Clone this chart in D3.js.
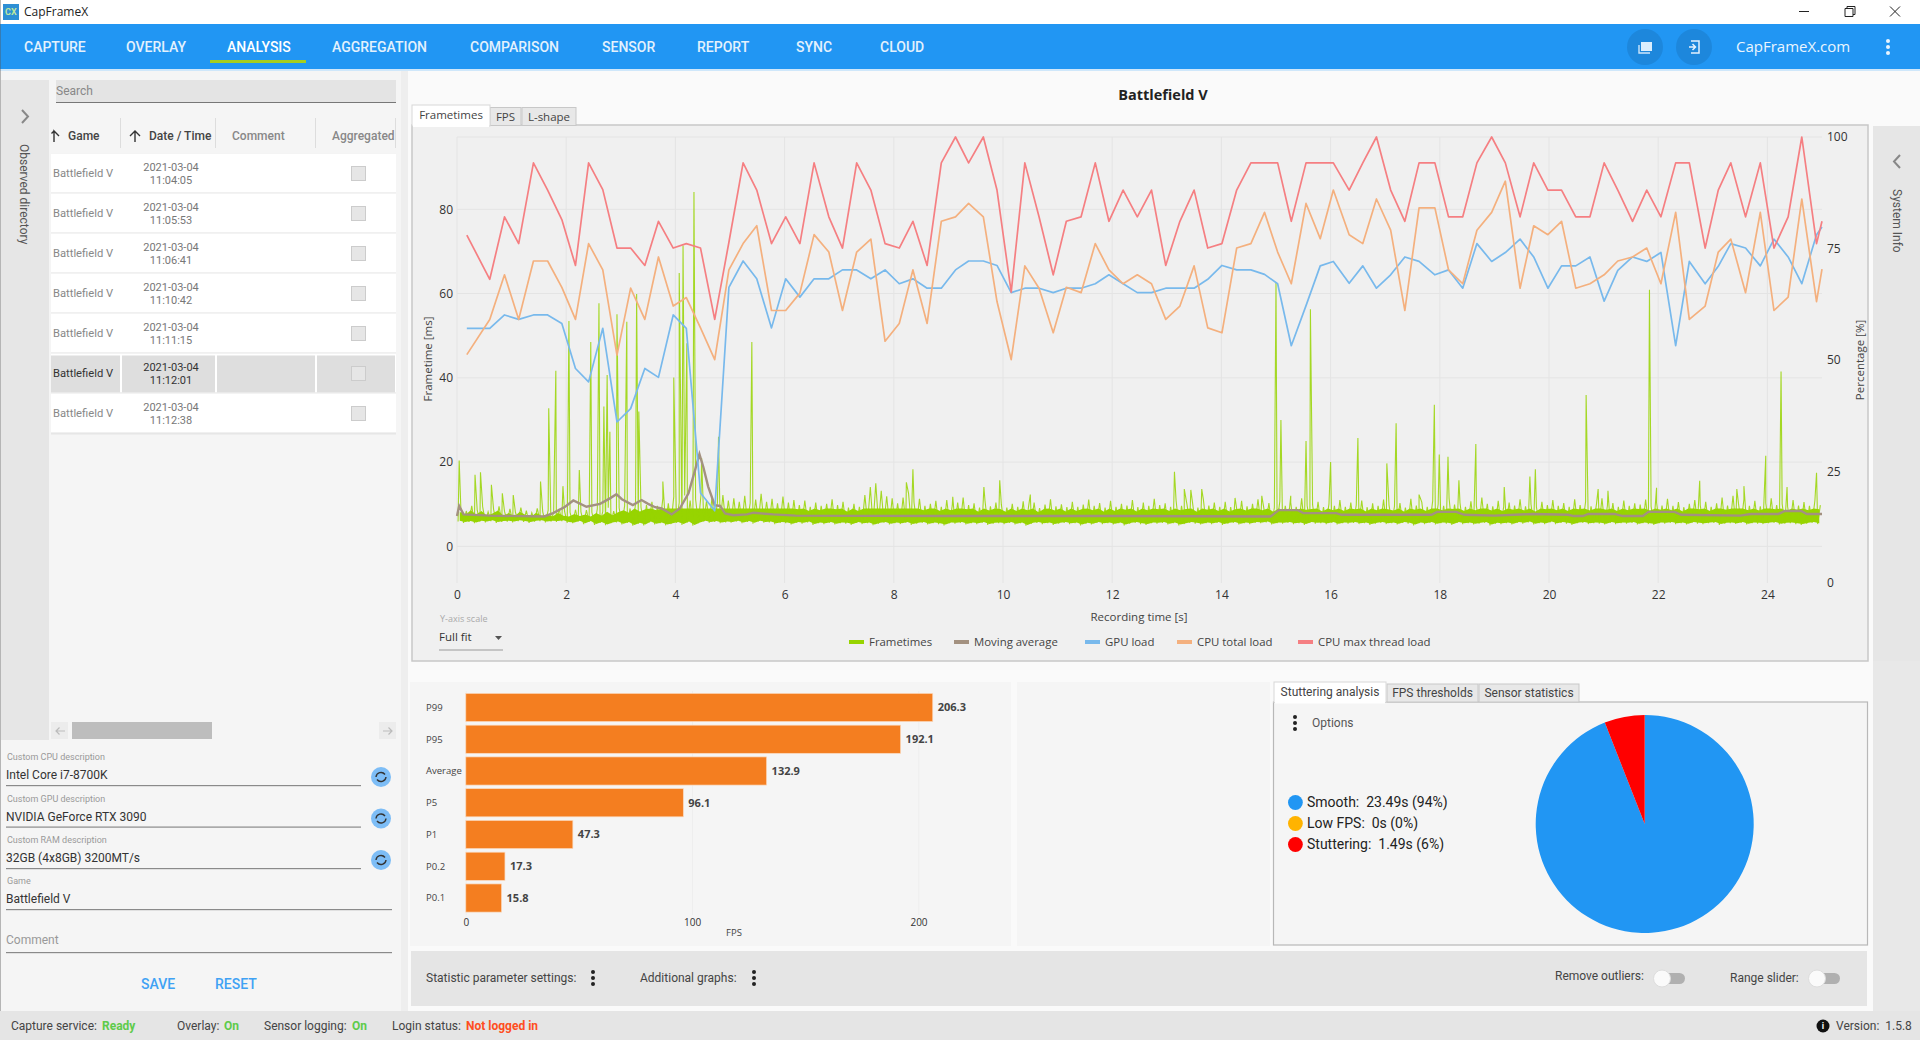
<!DOCTYPE html>
<html>
<head>
<meta charset="utf-8">
<script src="https://d3js.org/d3.v7.min.js"></script>
<style>
  html, body { margin: 0; padding: 0; background: #fafafa; overflow: hidden; }
  svg { display: block; }
  text { font-family: Roboto, sans-serif; white-space: pre; }
  .chart text { font-family: "Open Sans", sans-serif; }
</style>
</head>
<body>
<script>
// sensor samples, about every 0.26 s
var sensorTimes = [0.18,0.60,0.87,1.13,1.40,1.66,1.92,2.17,2.41,2.67,2.93,3.18,3.44,3.69,3.96,4.20,4.46,4.72,4.98,5.24,
  5.49,5.76,6.02,6.28,6.54,6.81,7.06,7.32,7.58,7.84,8.10,8.35,8.61,8.87,9.13,9.37,9.64,9.89,10.15,10.40,
  10.66,10.92,11.16,11.43,11.69,11.94,12.20,12.46,12.72,12.98,13.24,13.50,13.75,14.01,14.28,14.54,14.79,15.03,15.28,15.55,
  15.81,16.05,16.34,16.59,16.84,17.10,17.36,17.62,17.91,18.16,18.42,18.68,18.95,19.20,19.47,19.72,19.98,20.23,20.49,20.75,
  21.01,21.26,21.53,21.79,22.05,22.32,22.57,22.86,23.10,23.33,23.60,23.87,24.12,24.38,24.63,24.90,25.00];
var gpuLoad = [57.1,57.1,60.1,59.1,60.1,60.1,58.2,48.1,45.1,57.1,36.1,39.1,48.1,46.1,60.1,57.1,20.2,16.2,66.3,72.2,
  68.2,57.2,68.2,64.1,68.2,68.2,70.2,70.2,68.2,70.2,67.1,68.2,66.1,66.1,70.2,72.2,72.2,71.2,65.1,66.1,
  66.1,65.1,66.1,66.1,67.1,69.1,67.1,65.1,65.1,66.1,66.1,66.1,68.1,71.2,70.2,70.2,69.2,67.1,53.2,62.2,
  71.1,72.1,67.2,71.1,66.1,69.1,73.1,72.1,69.1,70.2,66.1,76.1,72.1,74.1,77.1,73.1,66.1,71.1,71.1,73.1,
  63.2,70.1,73.1,72.1,74.1,53.2,72.1,67.1,71,76.1,75.1,71.1,77.1,73.1,67.1,78.1,79.8];
var cpuTotal = [51.2,59.1,69.1,59.1,72.2,72.2,66.3,59.1,76.1,70.2,51.1,66.1,59.1,73.1,62.1,64.0,57.2,50.1,70.2,76.1,
  80.1,61.1,61.1,65,78.1,74.2,61.1,74.2,77.1,54.2,58.2,70.2,58.2,81.1,82.1,85.1,82.1,63.1,50.1,71.1,
  66.1,56.1,66.3,65.1,76.1,70.2,67.1,69.1,67.1,59.1,62.1,71.1,57.2,56.1,75.1,76.1,83.1,74.2,67.1,85.1,
  77.2,88.1,78.1,76.1,86.1,79.1,61.1,84.1,84.1,70.2,67.1,79.1,83.1,90.1,66.1,80.1,78.1,81.1,66.1,67.1,
  69.1,72.2,73.1,75.1,67.1,83.1,59.1,62.1,74.2,77.1,65.1,83.1,61.1,64.1,86.1,63.1,70.4];
var cpuMax = [78,68.1,82.1,76.1,94.2,88.1,81.5,71.2,94.2,88.2,75.1,75.1,71.2,81.1,75.1,76.1,75.1,59.1,76.4,94.2,
  88.1,76.1,82.1,76.1,94.2,82.1,75.1,94.2,88.1,76.1,75.1,81.1,71.2,94.2,100,94.2,100,88.1,65.2,94.2,
  82.1,69.1,81.1,82.1,94.2,81.1,88.1,82.1,88.1,71.2,81.1,88.1,75.1,76.1,88.1,94.2,94.2,94.2,81.1,94.2,
  94.2,94.2,88.1,94.2,100,88.1,81.1,94.2,94.2,82.1,82.1,94.2,100,94.2,82.1,94.2,88.1,88.1,82.1,82.1,
  94.2,88.1,81.1,88.1,82.1,94.2,94.2,75.1,88.1,94.2,82.1,94.2,75.1,82.1,100,76.1,81.1];

// frametime band read per 0.1 s slot (lowest and highest non-spike frame in the slot)
var frameLow = [5.9,5.6,5.8,5.5,5.9,5.7,6.0,5.6,5.8,5.9,5.7,6.0,5.8,5.6,5.9,6.0,5.7,5.9,5.8,6.0,
  5.6,5.5,5.9,5.3,5.8,5.1,5.6,5.0,5.5,5.7,5.2,5.6,4.9,5.4,5.0,5.7,5.2,5.5,5.0,5.3,
  5.6,5.1,5.7,4.9,5.5,5.9,5.6,5.8,5.5,5.7,5.6,5.9,5.5,5.8,5.4,5.9,5.6,5.7,5.3,5.6,
  5.5,5.2,5.6,5.4,5.7,5.1,5.5,5.3,5.6,5.2,5.5,5.4,5.1,5.6,5.3,5.5,5.0,5.4,5.6,5.2,
  5.5,5.3,5.6,5.1,5.4,5.6,5.2,5.5,5.3,5.0,5.5,5.4,5.6,5.2,5.5,5.3,5.6,5.1,5.4,5.5,
  5.3,5.6,5.2,5.5,4.9,5.4,5.6,5.3,5.5,5.1,5.4,5.6,5.3,5.5,5.0,5.4,5.2,5.6,5.3,5.5,
  5.2,5.5,5.0,5.4,5.6,5.3,5.1,5.5,5.4,5.6,5.2,5.5,5.0,5.3,5.6,5.4,5.2,5.5,5.3,5.6,
  5.1,5.4,5.6,5.2,5.5,5.3,5.6,5.5,5.7,5.2,5.5,5.4,5.6,5.3,5.5,5.1,5.6,5.4,5.5,5.3,
  5.6,5.2,5.5,5.4,5.6,5.3,5.5,5.1,5.4,5.6,5.3,5.5,5.2,5.6,5.4,5.0,5.5,5.3,5.6,5.2,
  5.5,5.4,5.1,5.6,5.3,5.5,5.2,5.4,5.6,5.0,5.4,5.3,5.5,5.2,5.6,5.4,5.7,5.2,5.5,5.3,
  5.7,5.3,5.6,5.4,5.1,5.5,5.6,5.3,5.5,5.4,5.2,5.6,5.3,5.5,5.4,5.6,5.2,5.5,5.3,5.1,
  5.5,5.4,5.6,5.3,5.5,5.2,5.6,5.4,5.3,5.5,5.6,5.1,5.4,5.5,5.3,5.6,5.2,5.5,5.4,5.3,
  5.5,5.6,5.2,5.4,5.5,5.3,5.1,5.4,5.6,5.3];
var frameHigh = [9.2,8.4,9.6,8.6,9.4,8.2,8.8,9.5,8.3,8.9,8.1,9.2,8.5,8.0,9.0,8.2,8.6,8.1,8.9,8.3,
  8.1,8.7,8.2,8.6,8.1,8.9,8.3,9.2,8.4,9.1,9.6,9.0,10.1,9.3,9.8,10.6,9.6,11.4,10.2,11.8,
  10.4,12.1,10.9,11.2,12.4,10.8,11.6,10.4,12.2,10.9,11.4,10.6,12.0,10.3,11.1,12.5,10.6,11.3,10.2,11.8,
  10.4,11.0,9.8,10.9,9.4,10.4,9.6,10.1,11.2,9.8,10.6,9.2,10.1,9.4,12.2,14.1,15.0,13.2,11.9,11.4,
  10.2,11.6,12.6,10.4,11.3,9.6,10.1,10.8,9.4,11.0,9.6,10.4,11.6,9.8,10.2,9.2,10.9,9.5,10.4,9.9,
  9.2,10.1,9.4,10.7,9.6,10.4,9.1,9.9,11.2,9.5,10.0,9.3,10.6,9.4,9.9,11.1,9.6,10.3,9.2,10.8,
  9.4,10.1,9.7,11.0,9.3,10.4,9.6,11.3,9.8,10.2,9.4,10.9,9.6,9.9,10.5,9.2,11.1,9.7,10.4,9.4,
  10.6,9.3,9.8,10.8,9.5,10.1,11.2,9.6,10.3,9.2,10.7,9.6,10.4,9.4,11.4,9.7,9.9,10.6,9.3,10.1,
  9.6,11.0,9.4,10.4,9.8,10.9,9.3,10.2,9.6,11.1,9.8,9.5,10.3,9.2,11.3,9.7,10.5,9.4,10.8,10.0,
  9.6,11.4,9.9,10.3,9.4,10.7,9.6,11.6,10.1,9.5,10.8,9.4,10.4,9.7,11.2,9.5,10.0,9.3,10.6,9.8,
  11.0,9.6,10.3,9.4,11.2,9.8,10.6,9.5,10.1,11.4,9.7,10.3,9.4,10.9,9.6,10.2,9.9,11.1,9.5,10.4,
  9.7,11.3,9.6,10.5,9.3,10.1,11.0,9.8,10.6,9.4,10.2,11.6,9.7,12.0,10.2,11.2,9.6,10.8,9.5,10.3,
  11.4,9.8,10.1,9.4,11.0,9.7,10.5,9.6,10.9,9.8];

// single frames that stick out of the band
var spikeTimes = [0.04,0.33,0.43,0.63,0.83,1.03,1.53,1.68,1.81,1.94,2.05,2.24,2.45,2.60,2.69,2.75,2.80,2.93,3.11,3.29,3.33,3.77,
  3.97,4.07,4.14,4.21,4.34,4.48,4.79,5.40,8.23,8.35,9.08,9.65,9.94,10.50,13.14,13.32,13.44,13.64,14.25,14.74,15.00,15.09,15.27,
  15.55,15.63,16.00,16.50,17.03,17.20,17.62,17.90,17.99,18.15,18.35,18.66,19.18,19.65,19.75,20.68,20.90,21.08,21.84,21.97,22.76,
  23.44,23.57,23.97,24.25,24.36,24.90];
var spikeValues = [20.4,17,17.6,14.6,12.6,12.2,15.4,32.8,41.7,14.3,53.5,18.1,48.5,57.7,33.2,40.7,27.2,55.1,53.3,59.9,32,15.4,
  40.1,64.9,71.4,48.2,84.1,21,26,48.5,15.2,18.3,11.8,14.1,15.7,12.3,17.7,13.6,13.4,13.6,11.5,12,62.7,30,12,
  25,56.3,20,25.7,19.7,29.2,12.3,33.6,21.8,21.3,15.7,24.3,14.1,16.6,18.3,35.9,13.6,13.2,60.9,13.9,15.6,
  13.6,14.3,21.5,41.5,14.1,17.5];

var avgTimes = [0,0.04,0.12,0.6,1.6,1.76,1.98,2.13,2.37,2.62,2.80,2.92,3.02,3.22,3.38,3.50,3.63,3.75,3.93,4.08,4.24,4.36,4.44,4.51,4.60,4.72,4.82,4.91,5.06,5.31,5.43,5.79,
  6.2,9,12,14.9,15.05,15.4,15.5,16.1,16.2,17.85,17.95,18.3,18.45,19,19.7,20.35,20.45,20.62,20.72,21.2,21.35,21.72,21.82,22.3,22.42,23.5,23.7,24.2,24.32,24.62,24.72,25];
var avgValues = [7.2,9.6,7.6,7.3,7.1,7.9,9.4,10.9,9.4,10.1,11.4,12.4,11.2,9.8,11,10.1,9.3,9,7.6,9,12.6,18.1,21.9,18.9,14.2,9.8,9.6,7.8,7.4,7.6,8,7.6,
  7.3,7.2,7.2,7.1,8.6,8.6,7.9,7.9,7.5,7.5,8.2,8.2,7.5,7.3,7.7,7.5,7.2,7.2,7.7,7.7,7.2,7.2,8.2,8.2,7.5,7.3,7.7,7.7,8.4,8.4,7.7,7.7];

var timeTicks = [0,2,4,6,8,10,12,14,16,18,20,22,24];
var msTicks = [0,20,40,60,80];
var pctTicks = [0,25,50,75,100];
var legendNames = ["Frametimes","Moving average","GPU load","CPU total load","CPU max thread load"];

var statNames = ["P99","P95","Average","P5","P1","P0.2","P0.1"];
var statValues = [206.3,192.1,132.9,96.1,47.3,17.3,15.8];
var fpsTicks = [0,100,200];

var stutterNames = ["Smooth","Low FPS","Stuttering"];
var stutterSeconds = [23.49,0,1.49];
var stutterPercent = [94,0,6];

var navItems = ["CAPTURE","OVERLAY","ANALYSIS","AGGREGATION","COMPARISON","SENSOR","REPORT","SYNC","CLOUD"];
var recordTimes = ["11:04:05","11:05:53","11:06:41","11:10:42","11:11:15","11:12:01","11:12:38"];

var green = "#97d400", brown = "#a39180", blue = "#78b9ec", orange = "#f4b07e", red = "#f57f82";
var lineColors = [green, brown, blue, orange, red];

var svg = d3.select("body").append("svg").attr("width", 1920).attr("height", 1040);

function rect(g, x, y, w, h, fill) {
  return g.append("rect").attr("x", x).attr("y", y).attr("width", w).attr("height", h).attr("fill", fill);
}
function label(g, x, y, s, size, fill, weight, anchor) {
  return g.append("text").attr("x", x).attr("y", y).attr("dy", "0.35em")
    .attr("font-size", size).attr("fill", fill || "#333")
    .attr("font-weight", weight || 400).attr("text-anchor", anchor || "start").text(s);
}
function kebab(g, x, y, fill) {
  [-6, 0, 6].forEach(function (d) {
    g.append("circle").attr("cx", x).attr("cy", y + d).attr("r", 2).attr("fill", fill || "#222");
  });
}

/* window chrome */
var topBar = svg.append("g");
rect(topBar, 0, 0, 1920, 24, "#fff");
rect(topBar, 3, 4, 16, 16, "#2d8fd5");
label(topBar, 5, 12, "CX", 9, "#bfe7a0", 700);
label(topBar, 24, 12, "CapFrameX", 12, "#222").style("font-family", "'Open Sans'");
topBar.append("path").attr("d", "M1799 11.5h10").attr("stroke", "#222");
topBar.append("path").attr("d", "M1845 8.5h8v8h-8zM1847 8.5v-2h8v8h-2").attr("stroke", "#222").attr("fill", "none");
topBar.append("path").attr("d", "M1890 6.5l10 10M1900 6.5l-10 10").attr("stroke", "#222").attr("fill", "none");

rect(topBar, 0, 24, 1920, 45, "#2196f3");
rect(topBar, 0, 69, 1920, 2, "#cfe7fa");
var navX = [24, 126, 227, 332, 470, 602, 697, 796, 880];
navItems.forEach(function (d, i) {
  label(topBar, navX[i], 47, d, 14, i == 2 ? "#fff" : "#e3f1fd", 500);
});
rect(topBar, 210, 60, 96, 3, "#a6ce1d");
[1645, 1694].forEach(function (x) {
  topBar.append("circle").attr("cx", x).attr("cy", 47).attr("r", 18).attr("fill", "#1d87dc");
});
rect(topBar, 1641, 42, 11, 9, "#dbeefd");
topBar.append("path").attr("d", "M1639 45v8h11").attr("stroke", "#cde6fb").attr("fill", "none").attr("stroke-width", 1.4);
topBar.append("path").attr("d", "M1691 41h8v12h-8M1689 47h6m-2.500-3l3 3-3 3").attr("stroke", "#e3f1fd").attr("fill", "none").attr("stroke-width", 1.5);
label(topBar, 1736, 47, "CapFrameX.com", 15, "#eaf5fe", 400).style("font-family", "'Open Sans'");
kebab(topBar, 1888, 47, "#eaf5fe");

/* left column */
var leftCol = svg.append("g");
rect(leftCol, 0, 71, 401, 940, "#f5f5f5");
rect(leftCol, 0, 0, 1, 1040, "#555").attr("opacity", 0.4);
rect(leftCol, 1, 80, 48, 660, "#e6e6e6");
leftCol.append("path").attr("d", "M22 110l6 6.500-6 6.500").attr("stroke", "#888").attr("stroke-width", 2).attr("fill", "none");
label(leftCol, 0, 0, "Observed directory", 12, "#555").attr("transform", "translate(24,144) rotate(90)").attr("dy", "0.35em");

rect(leftCol, 56, 80, 340, 22, "#e4e4e4");
rect(leftCol, 56, 102, 340, 1, "#777");
label(leftCol, 56, 91, "Search", 12, "#888");

label(leftCol, 68, 136, "Game", 12, "#444", 500);
label(leftCol, 149, 136, "Date / Time", 12, "#444", 500);
label(leftCol, 232, 136, "Comment", 12, "#888", 500);
label(leftCol, 332, 136, "Aggregated", 12, "#888", 500);
[120, 215, 315, 395].forEach(function (x) { rect(leftCol, x, 118, 1, 30, "#ddd"); });
// the Game arrow is clipped by the column edge in the app
leftCol.append("path").attr("d", "M54 142v-11l5 5M54 131l-2.500 2.500").attr("stroke", "#333").attr("stroke-width", 1.4).attr("fill", "none");
leftCol.append("path").attr("d", "M135 142v-11m-5 5l5-5 5 5").attr("stroke", "#333").attr("stroke-width", 1.4).attr("fill", "none");
rect(leftCol, 51, 153, 345, 2, "#e8e8e8");

recordTimes.forEach(function (d, i) {
  var cy = 173.5 + i * 40, sel = i == 5;
  rect(leftCol, 51, cy - 20, 345, 39, "#fff");
  if (sel) {
    rect(leftCol, 51, cy - 18, 69, 37, "#dedede");
    rect(leftCol, 122, cy - 18, 93, 37, "#dedede");
    rect(leftCol, 217, cy - 18, 98, 37, "#dedede");
    rect(leftCol, 317, cy - 18, 78, 37, "#dedede");
  }
  rect(leftCol, 51, cy + 19, 345, 2, "#e6e6e6");
  label(leftCol, 53, cy, "Battlefield V", 11.2, sel ? "#333" : "#888");
  label(leftCol, 171, cy - 6.500, "2021-03-04", 11, sel ? "#333" : "#777", 400, "middle");
  label(leftCol, 171, cy + 6.500, d, 11, sel ? "#333" : "#777", 400, "middle");
  rect(leftCol, 351.5, cy - 7, 14, 14, "#e6e6e6").attr("stroke", "#ccc");
});

rect(leftCol, 51, 722, 17, 17, "#ececec");
rect(leftCol, 72, 722, 140, 17, "#bdbdbd");
rect(leftCol, 379, 722, 17, 17, "#ececec");
leftCol.append("path").attr("d", "M65 731h-9m3.500-3.500l-3.500 3.500 3.500 3.500").attr("stroke", "#bbb").attr("fill", "none").attr("stroke-width", 1.2);
leftCol.append("path").attr("d", "M383 731h9m-3.500-3.500l3.500 3.500-3.500 3.500").attr("stroke", "#bbb").attr("fill", "none").attr("stroke-width", 1.2);

var formLabels = ["Custom CPU description", "Custom GPU description", "Custom RAM description", "Game"];
var formValues = ["Intel Core i7-8700K", "NVIDIA GeForce RTX 3090", "32GB (4x8GB) 3200MT/s", "Battlefield V"];
var formY = [775, 816.500, 858, 899];
formLabels.forEach(function (d, i) {
  var y = formY[i], w = i < 3 ? 355 : 386;
  label(leftCol, 7, y - 18, d, 9, "#999");
  label(leftCol, 6, y, formValues[i], 12, "#333");
  rect(leftCol, 6, y + 10, w, 1.2, "#8a8a8a");
  if (i < 3) {
    leftCol.append("circle").attr("cx", 381).attr("cy", y + 2).attr("r", 10).attr("fill", "#7dbdf6");
    leftCol.append("path").attr("d", "M" + 376 + " " + (y + 2) + "a5 5 0 0 1 9-2.500M" + 386 + " " + (y + 2) + "a5 5 0 0 1-9 2.500")
      .attr("stroke", "#333").attr("stroke-width", 1.4).attr("fill", "none");
  }
});
label(leftCol, 6, 940, "Comment", 12, "#999");
rect(leftCol, 6, 952, 386, 1.2, "#8a8a8a");
label(leftCol, 141, 984, "SAVE", 14, "#3fa2f4", 500);
label(leftCol, 215, 984, "RESET", 14, "#3fa2f4", 500);

/* status strip */
var statusBar = svg.append("g");
rect(statusBar, 0, 1011, 1920, 29, "#e5e5e5");
[[11, "Capture service:", "#444", 400], [102, "Ready", "#5ecb4a", 700], [177, "Overlay:", "#444", 400], [224, "On", "#5ecb4a", 700],
 [264, "Sensor logging:", "#444", 400], [352, "On", "#5ecb4a", 700], [392, "Login status:", "#444", 400], [466, "Not logged in", "#ff4e21", 700],
 [1836, "Version:  1.5.8", "#444", 400]].forEach(function (d) {
  label(statusBar, d[0], 1026, d[1], 12, d[2], d[3]);
});
statusBar.append("circle").attr("cx", 1823).attr("cy", 1026).attr("r", 6.500).attr("fill", "#111");
label(statusBar, 1823, 1026, "i", 9, "#fff", 700, "middle");

/* right column backgrounds */
var backing = svg.append("g");
rect(backing, 401, 71, 7, 940, "#eeeeee");
rect(backing, 408, 71, 1465, 600, "#fafafa");
rect(backing, 1873, 126, 47, 535, "#e6e6e6");
rect(backing, 1873, 71, 47, 55, "#fafafa");
rect(backing, 408, 671, 1465, 340, "#fafafa");
rect(backing, 1873, 661, 47, 350, "#e8e8e8");
backing.append("path").attr("d", "M1900 155l-6 6.500 6 6.500").attr("stroke", "#888").attr("stroke-width", 2).attr("fill", "none");
label(backing, 0, 0, "System Info", 12, "#555").attr("transform", "translate(1897,189) rotate(90)").attr("dy", "0.35em");

/* frametime chart */
var chart = svg.append("g").attr("class", "chart");
label(chart, 1163, 95, "Battlefield V", 14.5, "#222", 700, "middle");

rect(chart, 412, 125, 1456, 536, "#f0f0f0").attr("stroke", "#c8c8c8").attr("stroke-width", 1.5);
[[490, 31, "FPS"], [522, 54, "L-shape"]].forEach(function (d) {
  rect(chart, d[0], 107.500, d[1], 18, "#e8e8e8").attr("stroke", "#c8c8c8");
  label(chart, d[0] + d[1] / 2, 117, d[2], 11.5, "#444", 400, "middle");
});
rect(chart, 412, 105, 78, 21, "#fff").attr("stroke", "#d8d8d8");
rect(chart, 413, 124, 76, 3, "#fff");
label(chart, 451, 115, "Frametimes", 11.5, "#444", 400, "middle");

var x = d3.scaleLinear().domain([0, 25]).range([457, 1822]);
var yMs = d3.scaleLinear().domain([0, 80]).range([546.4, 209.3]);
var yPct = d3.scaleLinear().domain([0, 100]).range([583, 137]);

var grid = chart.append("g").attr("stroke", "#e4e4e4").attr("stroke-width", 1);
timeTicks.forEach(function (t) {
  grid.append("line").attr("x1", x(t)).attr("x2", x(t)).attr("y1", 137).attr("y2", 583);
});
msTicks.forEach(function (t) {
  grid.append("line").attr("x1", 457).attr("x2", 1822).attr("y1", yMs(t)).attr("y2", yMs(t));
});
grid.append("line").attr("x1", 457).attr("x2", 1822).attr("y1", 137).attr("y2", 137);

function plainAxis(sel, fontSize) {
  sel.select(".domain").remove();
  sel.selectAll("line").remove();
  sel.selectAll("text").attr("fill", "#333").attr("font-size", fontSize).style("font-family", "'Open Sans'");
}
chart.append("g").attr("transform", "translate(0,583)")
  .call(d3.axisBottom(x).tickValues(timeTicks).tickSize(0).tickPadding(7)).call(plainAxis, 12);
chart.append("g").attr("transform", "translate(457,0)")
  .call(d3.axisLeft(yMs).tickValues(msTicks).tickSize(0).tickPadding(4)).call(plainAxis, 12);
chart.append("g").attr("transform", "translate(1822,0)")
  .call(d3.axisRight(yPct).tickValues(pctTicks).tickSize(0).tickPadding(5)).call(plainAxis, 12);

label(chart, 0, 0, "Frametime [ms]", 11.5, "#444", 400, "middle").attr("transform", "translate(428,359) rotate(-90)");
label(chart, 0, 0, "Percentage [%]", 11.5, "#444", 400, "middle").attr("transform", "translate(1860,360) rotate(-90)");
label(chart, 1139, 617, "Recording time [s]", 11.5, "#444", 400, "middle");

label(chart, 440, 619, "Y-axis scale", 9, "#aaa");
label(chart, 439, 637, "Full fit", 11.5, "#333");
chart.append("path").attr("d", "M495 636h7l-3.500 4z").attr("fill", "#555");
rect(chart, 439, 649.5, 64, 1, "#999");

// frametime line: slot low, slot high, with the spikes sorted in
var framePoints = [];
frameLow.forEach(function (v, i) {
  framePoints.push([i * 0.1 + 0.02, v]);
  framePoints.push([i * 0.1 + 0.07, frameHigh[i]]);
});
spikeTimes.forEach(function (t, i) { framePoints.push([t, spikeValues[i]]); });
framePoints.sort(function (a, b) { return a[0] - b[0]; });

var plot = chart.append("g");
plot.append("path").datum(frameLow)
  .attr("fill", green)
  .attr("d", d3.area()
    .x(function (d, i) { return x(i * 0.1 + 0.05); })
    .y0(function (d) { return yMs(d + 0.2); })
    .y1(function (d, i) { return yMs(Math.min(frameHigh[i] - 1, 9)); }));
plot.append("path").datum(framePoints)
  .attr("fill", "none").attr("stroke", green).attr("stroke-width", 1.1).attr("stroke-opacity", 0.85)
  .attr("d", d3.line().x(function (d) { return x(d[0]); }).y(function (d) { return yMs(d[1]); }));

plot.append("path").datum(avgTimes)
  .attr("fill", "none").attr("stroke", brown).attr("stroke-width", 2.4)
  .attr("d", d3.line().x(function (d) { return x(d); }).y(function (d, i) { return yMs(avgValues[i]); }));

[[gpuLoad, blue], [cpuTotal, orange], [cpuMax, red]].forEach(function (s) {
  plot.append("path").datum(s[0])
    .attr("fill", "none").attr("stroke", s[1]).attr("stroke-width", 1.7).attr("stroke-linejoin", "round")
    .attr("d", d3.line().x(function (d, i) { return x(sensorTimes[i]); }).y(function (d) { return yPct(d); }));
});

var legendX = [849, 954, 1085, 1177, 1298];
legendNames.forEach(function (d, i) {
  rect(chart, legendX[i], 640, 15, 4, lineColors[i]);
  label(chart, legendX[i] + 20, 642, d, 11.4, "#444");
});

/* percentile bars */
var bars = svg.append("g").attr("class", "chart");
rect(bars, 410, 682, 601, 264, "#f5f5f5");
rect(bars, 1017, 682, 253, 264, "#f5f5f5");

var xFps = d3.scaleLinear().domain([0, 200]).range([465.8, 918.5]);
var yCat = d3.scaleBand().domain(statNames).range([691.6, 913.9]).paddingInner(0.113).paddingOuter(0.0565);

fpsTicks.forEach(function (t) {
  rect(bars, xFps(t), 691, 0.7, 224, "#ececec");
});
bars.selectAll("rect.bar").data(statValues).enter().append("rect")
  .attr("class", "bar")
  .attr("x", xFps(0))
  .attr("y", function (d, i) { return yCat(statNames[i]); })
  .attr("width", function (d) { return xFps(d) - xFps(0); })
  .attr("height", yCat.bandwidth())
  .attr("fill", "#f47e20").attr("stroke", "#fbd9bd").attr("stroke-width", 0.7);
bars.selectAll("text.value").data(statValues).enter().append("text")
  .attr("class", "value")
  .attr("x", function (d) { return xFps(d) + 5; })
  .attr("y", function (d, i) { return yCat(statNames[i]) + yCat.bandwidth() / 2; })
  .attr("dy", "0.35em").attr("font-size", 11).attr("font-weight", 700).attr("fill", "#444")
  .text(function (d) { return d.toFixed(1); });
statNames.forEach(function (d) {
  label(bars, 426, yCat(d) + yCat.bandwidth() / 2, d, 9.5, "#444");
});
bars.append("g").attr("transform", "translate(0,916)")
  .call(d3.axisBottom(xFps).tickValues(fpsTicks).tickSize(0).tickPadding(3)).call(plainAxis, 10);
label(bars, 734, 933, "FPS", 9.5, "#444", 400, "middle");

/* stuttering pie */
var pieG = svg.append("g");
rect(pieG, 1273.5, 702, 594, 243, "#f5f5f5").attr("stroke", "#b8b8b8").attr("stroke-width", 1.2);
[[1387, 91, "FPS thresholds"], [1479, 100, "Sensor statistics"]].forEach(function (d) {
  rect(pieG, d[0], 684, d[1], 18, "#e8e8e8").attr("stroke", "#c8c8c8");
  label(pieG, d[0] + d[1] / 2, 692.5, d[2], 12, "#444", 400, "middle");
});
rect(pieG, 1274, 682, 112, 20.5, "#fff").attr("stroke", "#d8d8d8");
rect(pieG, 1275, 701, 110, 2.5, "#fff");
label(pieG, 1330, 691.5, "Stuttering analysis", 12, "#444", 400, "middle");

kebab(pieG, 1295, 723, "#222");
label(pieG, 1312, 723, "Options", 12, "#555");

var stutterColors = ["#2196f3", "#ffb300", "#ff0000"];
stutterNames.forEach(function (d, i) {
  var cy = 802.5 + i * 21;
  pieG.append("circle").attr("cx", 1295.4).attr("cy", cy).attr("r", 7.4).attr("fill", stutterColors[i]);
  label(pieG, 1307, cy, d + ":  " + stutterSeconds[i] + "s (" + stutterPercent[i] + "%)", 14, "#222");
});

var pie = d3.pie().sort(null)(stutterSeconds);
pieG.append("g").attr("transform", "translate(1644.7,824)")
  .selectAll("path").data(pie).enter().append("path")
  .attr("d", d3.arc().innerRadius(0).outerRadius(109))
  .attr("fill", function (d, i) { return stutterColors[i]; });

/* bottom options strip */
var opts = svg.append("g");
rect(opts, 411, 951, 1456, 55, "#e5e5e5");
label(opts, 426, 978, "Statistic parameter settings:", 12, "#444");
kebab(opts, 593, 978, "#222");
label(opts, 640, 978, "Additional graphs:", 12, "#444");
kebab(opts, 754, 978, "#222");
label(opts, 1555, 976, "Remove outliers:", 12, "#444");
label(opts, 1730, 978, "Range slider:", 12, "#444");
[1662, 1817].forEach(function (cx) {
  rect(opts, cx, 973, 23, 11, "#b0b0b0").attr("rx", 5.500);
  opts.append("circle").attr("cx", cx).attr("cy", 978.500).attr("r", 8.5).attr("fill", "#fafafa")
    .attr("stroke", "#ddd");
});
</script>
</body>
</html>
